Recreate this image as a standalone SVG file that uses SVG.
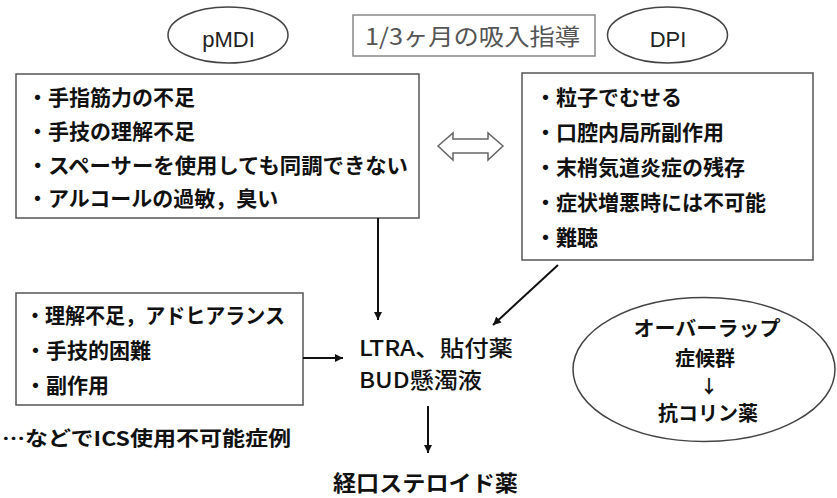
<svg xmlns="http://www.w3.org/2000/svg" width="837" height="498" viewBox="0 0 837 498">
<defs>
<marker id="ah" viewBox="0 0 10 10" refX="10" refY="5" markerWidth="8" markerHeight="8" markerUnits="userSpaceOnUse" orient="auto">
<path d="M0,0 L10,5 L0,10 z" fill="#111"/>
</marker>
<style>
.box{fill:#fff;stroke:#555;stroke-width:1.5}
.ell{fill:#fff;stroke:#444;stroke-width:1.5}
.jp{font-family:"Noto Sans CJK JP","Noto Sans",sans-serif;fill:#111}
.b{font-weight:bold;font-size:21px}
.e{font-weight:bold;font-size:20px}
.lat{font-family:"Liberation Sans",Arial,sans-serif;font-size:22px;fill:#222}
.conn{stroke:#111;stroke-width:2;fill:none;marker-end:url(#ah)}
</style>
</defs>
<rect width="837" height="498" fill="#fff"/>

<g id="pmdi">
<ellipse class="ell" cx="228" cy="35" rx="60" ry="28"/>
<text class="lat" x="228.5" y="47" text-anchor="middle">pMDI</text>
</g>

<g id="title">
<rect x="353" y="15" width="242" height="41" fill="#fff" stroke="#888" stroke-width="1.5"/>
<text class="jp" x="365" y="45" font-size="23" style="fill:#555" textLength="215" lengthAdjust="spacingAndGlyphs">1/3ヶ月の吸入指導</text>
</g>

<g id="dpi">
<ellipse class="ell" cx="667.5" cy="35" rx="60" ry="28"/>
<text class="lat" x="668" y="47" text-anchor="middle">DPI</text>
</g>

<g id="pmdi-issues">
<rect class="box" x="16" y="74" width="403" height="144"/>
<text class="jp b" x="27" y="105">・手指筋力の不足</text>
<text class="jp b" x="27" y="139">・手技の理解不足</text>
<text class="jp b" x="27" y="173" textLength="381" lengthAdjust="spacingAndGlyphs">・スペーサーを使用しても同調できない</text>
<text class="jp b" x="27" y="206">・アルコールの過敏，臭い</text>
</g>

<g id="dpi-issues">
<rect class="box" x="522" y="73" width="291" height="187"/>
<text class="jp b" x="535" y="105">・粒子でむせる</text>
<text class="jp b" x="535" y="140">・口腔内局所副作用</text>
<text class="jp b" x="535" y="175">・末梢気道炎症の残存</text>
<text class="jp b" x="535" y="210">・症状増悪時には不可能</text>
<text class="jp b" x="535" y="245">・難聴</text>
</g>

<g id="double-arrow">
<polygon points="438,146 453,133 453,139 488,139 488,133 503,146 488,160 488,153 453,153 453,160" fill="#fff" stroke="#666" stroke-width="1.5"/>
</g>

<g id="ics-issues">
<rect class="box" x="16" y="293" width="287" height="112"/>
<text class="jp b" x="25" y="323" textLength="260" lengthAdjust="spacingAndGlyphs">・理解不足，アドヒアランス</text>
<text class="jp b" x="25" y="358">・手技的困難</text>
<text class="jp b" x="25" y="393">・副作用</text>
</g>

<g id="ics-note">
<text class="jp" x="2" y="446" font-size="20" font-weight="bold" textLength="289" lengthAdjust="spacingAndGlyphs">…などでICS使用不可能症例</text>
</g>

<g id="ltra">
<text class="jp" x="359" y="356" font-size="22" font-weight="500" textLength="154" lengthAdjust="spacingAndGlyphs">LTRA、貼付薬</text>
<text class="jp" x="359" y="388" font-size="22" font-weight="500" textLength="123" lengthAdjust="spacingAndGlyphs">BUD懸濁液</text>
</g>

<g id="oral-steroid">
<text class="jp" x="333" y="491" font-size="22" font-weight="bold" textLength="185" lengthAdjust="spacingAndGlyphs">経口ステロイド薬</text>
</g>

<g id="overlap">
<ellipse class="ell" cx="704" cy="369.5" rx="131" ry="72"/>
<text class="jp e" x="707" y="336" text-anchor="middle" textLength="147" lengthAdjust="spacingAndGlyphs">オーバーラップ</text>
<text class="jp e" x="705" y="366" text-anchor="middle">症候群</text>
<text class="jp" x="709" y="393" font-size="18" font-weight="bold" text-anchor="middle">↓</text>
<text class="jp e" x="708" y="421" text-anchor="middle">抗コリン薬</text>
</g>

<g id="connectors">
<line class="conn" x1="378" y1="218" x2="378" y2="320"/>
<line class="conn" x1="558" y1="265" x2="493" y2="325"/>
<line class="conn" x1="303" y1="358" x2="343" y2="358"/>
<line class="conn" x1="428" y1="406" x2="428" y2="453"/>
</g>
</svg>
